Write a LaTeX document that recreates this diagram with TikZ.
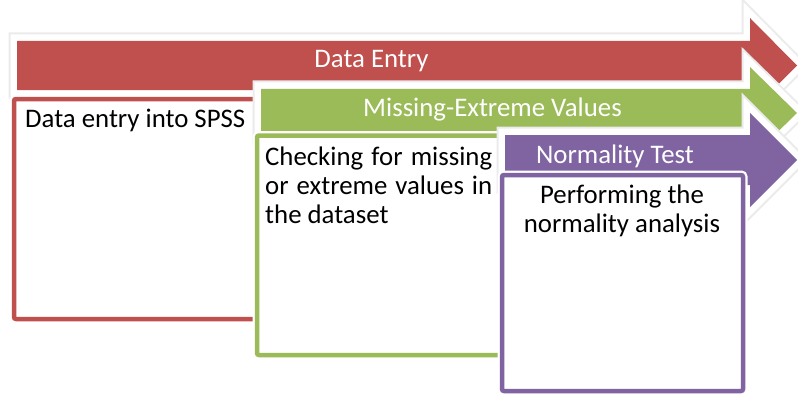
\documentclass[tikz,border=0pt]{standalone}
\usepackage{fontspec}
\setmainfont{Carlito}
\definecolor{stageRed}{HTML}{C0504D}
\definecolor{stageGreen}{HTML}{9BBB59}
\definecolor{stagePurple}{HTML}{8064A2}

\begin{document}
\begin{tikzpicture}[x=1pt,y=-1pt,
  arrowrim/.style={draw=black!8, line width=17pt, line join=miter},
  arrowhalo/.style={draw=white, line width=13pt, line join=miter},
  boxhalo/.style={draw=white, line width=9pt, rounded corners=2pt},
  panel/.style={fill=white, line width=4.5pt, rounded corners=2pt},
  title/.style={font=\fontsize{26.8}{32}\selectfont, text=white, inner sep=0pt, anchor=base},
  body/.style={font=\fontsize{26.8}{32}\selectfont, text=black, inner sep=0pt}]

\useasboundingbox (0,0) rectangle (798,396);

% stage 1: red arrow and its panel
\path[arrowrim] (17,41) -- (750,41) -- (750,18) -- (797,65.5) -- (750,113) -- (750,90) -- (17,90) -- cycle;
\path[arrowhalo] (17,41) -- (750,41) -- (750,18) -- (797,65.5) -- (750,113) -- (750,90) -- (17,90) -- cycle;
\fill[stageRed] (17,41) -- (750,41) -- (750,18) -- (797,65.5) -- (750,113) -- (750,90) -- (17,90) -- cycle;
\node[title] (t1) at (371.5,67) {Data Entry};
\path[boxhalo] (14,99) rectangle (320,319);
\draw[panel, draw=stageRed] (14,99) rectangle (320,319);
\node[body, anchor=base west] (d1) at (25,128) {Data entry into SPSS};

% stage 2: green arrow and its panel
\path[arrowrim] (261,89) -- (750,89) -- (750,67) -- (797,113) -- (750,159) -- (750,137) -- (261,137) -- cycle;
\path[arrowhalo] (261,89) -- (750,89) -- (750,67) -- (797,113) -- (750,159) -- (750,137) -- (261,137) -- cycle;
\fill[stageGreen] (261,89) -- (750,89) -- (750,67) -- (797,113) -- (750,159) -- (750,137) -- (261,137) -- cycle;
\node[title] (t2) at (492.5,117) {Missing-Extreme Values};
\path[boxhalo] (257,135.5) rectangle (560,355);
\draw[panel, draw=stageGreen] (257,135.5) rectangle (560,355);
\node[body, anchor=base west] (d2a) at (265,165) {\makebox[227pt][s]{Checking for missing}};
\node[body, anchor=base west] (d2b) at (265,194) {\makebox[227pt][s]{or extreme values in}};
\node[body, anchor=base west] (d2c) at (265,223) {the dataset};

% stage 3: purple arrow and its panel
\path[arrowrim] (505,135) -- (750,135) -- (750,113) -- (797,160) -- (750,207) -- (750,185) -- (505,185) -- cycle;
\path[arrowhalo] (505,135) -- (750,135) -- (750,113) -- (797,160) -- (750,207) -- (750,185) -- (505,185) -- cycle;
\fill[stagePurple] (505,135) -- (750,135) -- (750,113) -- (797,160) -- (750,207) -- (750,185) -- (505,185) -- cycle;
\node[title] (t3) at (615,163) {Normality Test};
\path[boxhalo] (502,175) rectangle (743,391);
\draw[panel, draw=stagePurple] (502,175) rectangle (743,391);
\node[body, anchor=base] (d3a) at (622,203) {Performing the};
\node[body, anchor=base] (d3b) at (622,232) {normality analysis};

\end{tikzpicture}
\end{document}
